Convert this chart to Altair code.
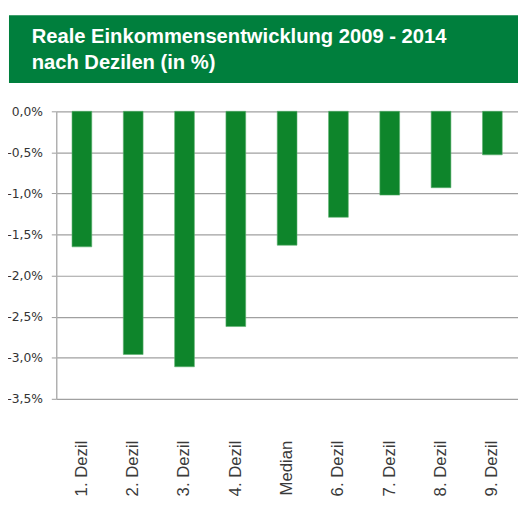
import altair as alt
import pandas as pd

categories = ["1. Dezil", "2. Dezil", "3. Dezil", "4. Dezil", "Median",
              "6. Dezil", "7. Dezil", "8. Dezil", "9. Dezil"]
values = [-1.65, -2.96, -3.11, -2.62, -1.63, -1.29, -1.02, -0.93, -0.53]
y_ticks = [0.0, -0.5, -1.0, -1.5, -2.0, -2.5, -3.0, -3.5]
title_lines = ["Reale Einkommensentwicklung 2009 - 2014", "nach Dezilen (in %)"]

df = pd.DataFrame({"cat": categories, "val": values})

W, H = 469, 292

bars = alt.Chart(df).mark_bar(color="#0E852B", stroke="#5DB070", strokeWidth=0.6).encode(
    x=alt.X("cat:N", sort=categories, title=None,
            scale=alt.Scale(paddingInner=0.615, paddingOuter=0.3075),
            axis=alt.Axis(labelAngle=-90, labelFont="Liberation Sans", labelFontSize=17,
                          labelColor="#3a3a3a", labelPadding=42, ticks=False,
                          domain=False, grid=False)),
    y=alt.Y("val:Q", title=None,
            scale=alt.Scale(domain=[-3.5, 0], nice=False),
            axis=alt.Axis(values=y_ticks,
                          labelExpr="(datum.value < 0 ? '-' : '') + replace(format(abs(datum.value), '.1f'), '.', ',') + '%'",
                          labelFont="DejaVu Sans", labelFontSize=12.5, labelColor="#333333",
                          labelPadding=9, tickSize=5, tickColor="#9a9a9a",
                          domainColor="#b0b0b0", domainWidth=1.5,
                          gridColor="#a0a0a0", gridWidth=1.2)),
)

header = alt.Chart(alt.Data(values=[{}])).mark_rect(color="#007F3D").encode(
    x=alt.value(-48), x2=alt.value(W), y=alt.value(-97.5), y2=alt.value(-28.8)
)

t1 = alt.Chart(alt.Data(values=[{}])).mark_text(
    text=title_lines[0], font="Liberation Sans", fontWeight="bold", fontSize=20.5,
    color="white", align="left", baseline="alphabetic"
).encode(x=alt.value(-25), y=alt.value(-69.5))

t2 = alt.Chart(alt.Data(values=[{}])).mark_text(
    text=title_lines[1], font="Liberation Sans", fontWeight="bold", fontSize=20.5,
    color="white", align="left", baseline="alphabetic"
).encode(x=alt.value(-25), y=alt.value(-43))

chart = alt.layer(header, t1, t2, bars).properties(
    width=W, height=H,
    autosize=alt.AutoSizeParams(type="none"),
    padding={"left": 49, "top": 101, "right": 0, "bottom": 110},
).configure_view(stroke=None)

chart.save("out.html", embed_options={"renderer": "svg", "actions": False})
